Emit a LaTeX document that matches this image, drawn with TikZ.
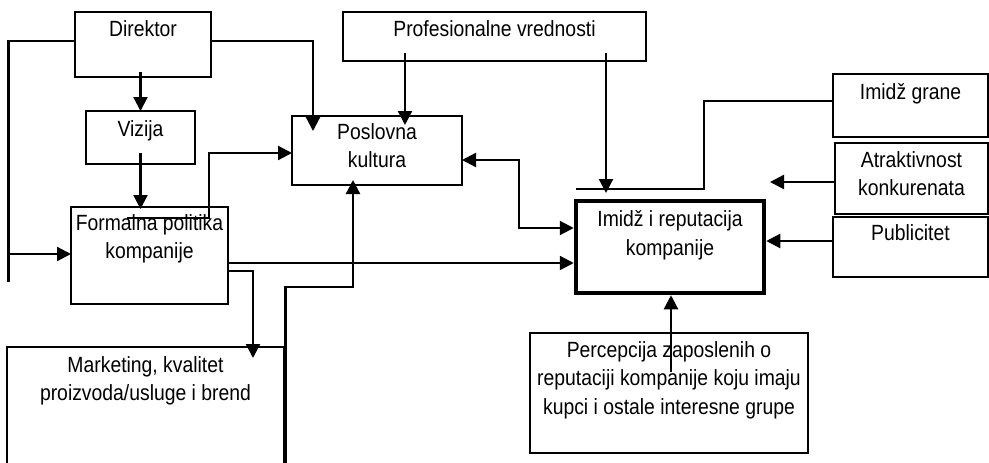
\documentclass[tikz,border=0pt]{standalone}
\usepackage{fontspec}
\setmainfont{Liberation Sans}[FakeStretch=0.88]
\usetikzlibrary{arrows.meta,calc}
\newcommand{\lblfont}{\fontsize{22}{28.5}\selectfont}
\begin{document}
\begin{tikzpicture}[x=1pt,y=-1pt,
  box/.style={draw,line width=1.4pt,inner sep=0pt,outer sep=0pt},
  lbl/.style={inner sep=0pt,align=center,font=\lblfont,anchor=north},
  arr/.style={line width=2.2pt,-{Triangle[length=14pt,width=14pt]}},
  dbl/.style={line width=2.2pt,{Triangle[length=14pt,width=14pt]}-{Triangle[length=14pt,width=14pt]}},
  con/.style={line width=2.2pt},
  thinline/.style={line width=1.6pt}]
\useasboundingbox (0,0) rectangle (989,463);

% boxes
\node[box,minimum width=136pt,minimum height=65pt] (dir) at (143,44.5) {};
\node[lbl] (dirt) at ($(dir.north)+(0,4)$) {\strut Direktor};

\node[box,minimum width=109pt,minimum height=53pt] (viz) at (140.5,137.5) {};
\node[lbl] (vizt) at ($(viz.north)+(0,5)$) {\strut Vizija};

\node[box,minimum width=157pt,minimum height=97pt] (formal) at (149.5,255.5) {};
\node[lbl] (formalt) at ($(formal.north)+(0,3)$) {\strut Formalna politika\\kompanije};

\node[box,minimum width=170pt,minimum height=69pt] (posl) at (377,150.5) {};
\node[lbl] (poslt) at ($(posl.north)+(0,3)$) {\strut Poslovna\\kultura};

\node[box,minimum width=303pt,minimum height=49pt] (prof) at (494.5,36.5) {};
\node[lbl] (proft) at ($(prof.north)+(0,4)$) {\strut Profesionalne vrednosti};

\node[draw,line width=4.5pt,inner sep=0pt,minimum width=188pt,minimum height=92pt] (imidz) at (670,247) {};
\node[lbl] (imidzt) at ($(imidz.north)+(0,8)$) {\strut Imidž i reputacija\\kompanije};

\node[box,minimum width=155pt,minimum height=63pt] (grane) at (910.5,105.5) {};
\node[lbl] (granet) at ($(grane.north)+(0,5)$) {\strut Imidž grane};

\node[box,minimum width=153pt,minimum height=71pt] (atrak) at (911.5,178.5) {};
\node[lbl] (atrakt) at ($(atrak.north)+(0,4)$) {\strut Atraktivnost\\konkurenata};

\node[box,minimum width=155pt,minimum height=60pt] (pub) at (910.5,247) {};
\node[lbl] (pubt) at ($(pub.north)+(0,3)$) {\strut Publicitet};

\node[box,minimum width=278pt,minimum height=120pt] (perc) at (669,393) {};
\node[lbl] (perct) at ($(perc.north)+(0,4)$) {\strut Percepcija zaposlenih o\\reputaciji kompanije koju imaju\\kupci i ostale interesne grupe};

\node[inner sep=0pt,outer sep=0pt,minimum width=277pt,minimum height=116pt] (mark) at (145.5,405) {};
\draw[line width=1.4pt] (mark.south west) -- (mark.north west) -- (mark.north east) -- (mark.south east);
\node[lbl] (markt) at ($(mark.north)+(0,5)$) {\strut Marketing, kvalitet\\proizvoda/usluge i brend};

% connectors
\draw[arr] (viz.north |- 0,72) -- (viz.north);
\draw[arr] (viz.north |- 0,153) -- ($(viz.north |- formal.north)+(0,2)$);
\draw[con] (dir.west |- 0,41) -- (8.5,41) -- (8.5,282);
\draw[arr] (7,254) -- (formal.west |- 0,254);
\draw[arr] (dir.east |- 0,41) -- (313,41) -- (313,131);
\draw[arr] (127,218) -- (209,218) -- (209,153) -- (posl.west |- 0,153);
\draw[arr] (405,53) -- (405,125);
\draw[arr] (606,53) -- (606,193);
\draw[thinline] (grane.west |- 0,101) -- (704,101) -- (704,189) -- (576,189);
\draw[dbl] (posl.east |- 0,160) -- (519,160) -- (519,228) -- (imidz.west |- 0,228);
\draw[arr] (formal.east |- 0,263) -- (imidz.west |- 0,263);
\draw[arr] (formal.east |- 0,271) -- (253,271) -- (253,358);
\draw[arr] (285.5,463) -- (285.5,287) -- (353,287) -- (353,180);
\draw[arr] (671,372) -- (imidz.south -| 671,0);
\draw[arr] (atrak.west |- 0,182) -- (770,182);
\draw[arr] (pub.west |- 0,241) -- (imidz.east |- 0,241);
\end{tikzpicture}
\end{document}
